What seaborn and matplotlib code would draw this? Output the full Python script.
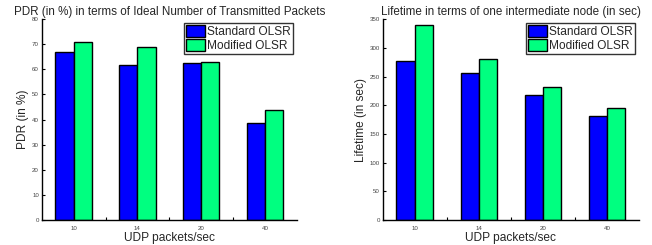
import matplotlib
matplotlib.use("Agg")
import matplotlib.pyplot as plt
import seaborn as sns
import pandas as pd
from matplotlib.ticker import FixedLocator

rates = ["10", "14", "20", "40"]
series = ["Standard OLSR", "Modified OLSR"]
pdr_standard = [66.9, 61.6, 62.5, 38.6]
pdr_modified = [71.0, 68.8, 62.9, 44.0]
life_standard = [277, 256, 217, 181]
life_modified = [340, 281, 232, 195]
colors = ["#0000ff", "#00ff80"]

sns.set_theme(style="white")
plt.rcParams['font.family'] = ['Liberation Sans', 'DejaVu Sans']

fig = plt.figure(figsize=(6.52, 2.45), dpi=100)
ax1 = fig.add_axes([0.064, 0.102, 0.3915, 0.82])
ax2 = fig.add_axes([0.587, 0.102, 0.393, 0.82])


def make_df(a, b):
    return pd.DataFrame({
        "rate": rates * 2,
        "series": [series[0]] * len(rates) + [series[1]] * len(rates),
        "value": list(a) + list(b),
    })


panels = [
    (ax1, make_df(pdr_standard, pdr_modified), 80, 10,
     "PDR (in %) in terms of Ideal Number of Transmitted Packets", "PDR (in %)"),
    (ax2, make_df(life_standard, life_modified), 350, 50,
     "Lifetime in terms of one intermediate node (in sec)", "Lifetime (in sec)"),
]

for ax, df, ymax, step, title, ylabel in panels:
    sns.barplot(data=df, x="rate", y="value", hue="series", order=rates,
                hue_order=series, palette=colors, width=0.57, ax=ax,
                edgecolor="black", linewidth=1.0, saturation=1.0, errorbar=None)
    ax.set_xlim(-0.5, 3.5)
    ax.set_ylim(0, ymax)
    ax.set_yticks(list(range(0, ymax + 1, step)))
    ax.xaxis.set_minor_locator(FixedLocator([0.5, 1.5, 2.5]))
    ax.tick_params(axis="x", which="major", length=0, labelsize=4.4,
                   labelcolor="#444444", pad=4)
    ax.tick_params(axis="x", which="minor", direction="in", length=2.5,
                   width=0.8, color="black", bottom=True)
    ax.tick_params(axis="y", which="major", direction="in", length=2.5,
                   width=0.8, color="black", labelsize=4.4,
                   labelcolor="#444444", pad=2, left=True)
    for s in ["top", "right"]:
        ax.spines[s].set_visible(False)
    for s in ["left", "bottom"]:
        ax.spines[s].set_color("black")
        ax.spines[s].set_linewidth(1.0)
    ax.set_title(title, fontsize=8.4, pad=3)
    ax.set_xlabel("UDP packets/sec", fontsize=8.6, labelpad=1)
    ax.set_ylabel(ylabel, fontsize=8.6, labelpad=2)
    leg = ax.legend(loc="upper right", fontsize=8.6, frameon=True,
                    fancybox=False, edgecolor="black", handlelength=1.6,
                    handleheight=1.1, handletextpad=0.2, borderpad=0.15,
                    labelspacing=0.1, borderaxespad=0.35)
    leg.get_frame().set_linewidth(1.0)

fig.savefig("out.png", dpi=100)
